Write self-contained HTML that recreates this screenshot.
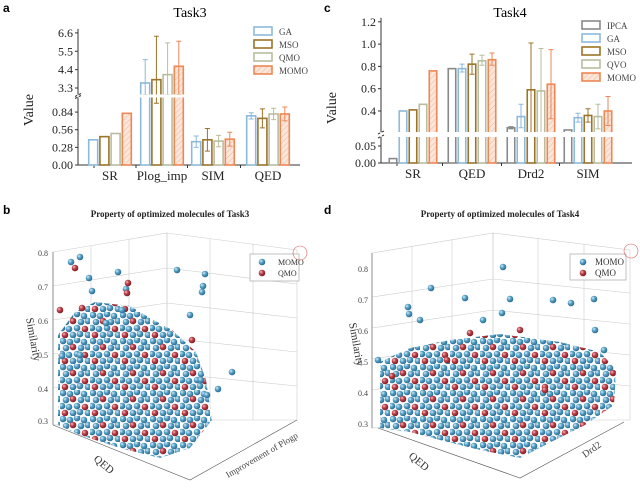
<!DOCTYPE html>
<html><head><meta charset="utf-8"><style>
body{margin:0;background:#fff;}
svg{display:block;font-family:"Liberation Serif",serif;}
.pl{font-family:"Liberation Sans",sans-serif;font-weight:bold;font-size:12px;}
</style></head><body>
<svg id="fig" width="640" height="488" viewBox="0 0 640 488">
<defs>
<pattern id="hatch" width="4" height="4" patternUnits="userSpaceOnUse" patternTransform="rotate(45)">
<rect width="4" height="4" fill="#fbe6da"/><line x1="0" y1="0" x2="0" y2="4" stroke="#efb69a" stroke-width="1"/></pattern>
<radialGradient id="gb" cx="35%" cy="35%" r="65%"><stop offset="0" stop-color="#d4ecf7"/><stop offset=".45" stop-color="#5aa3c8"/><stop offset="1" stop-color="#2b6c92"/></radialGradient>
<radialGradient id="gr" cx="35%" cy="35%" r="65%"><stop offset="0" stop-color="#f3c2c2"/><stop offset=".45" stop-color="#c0404a"/><stop offset="1" stop-color="#7d1f27"/></radialGradient>
<pattern id="cloud" width="30" height="26" patternUnits="userSpaceOnUse">
<rect width="30" height="26" fill="#fff"/>
<circle cx="3" cy="3" r="3.3" fill="url(#gb)"/><circle cx="10" cy="4" r="3.3" fill="url(#gb)"/><circle cx="17" cy="2" r="3.3" fill="url(#gb)"/><circle cx="24" cy="4" r="3.3" fill="url(#gb)"/>
<circle cx="6" cy="10" r="3.3" fill="url(#gb)"/><circle cx="13" cy="9" r="3.3" fill="url(#gr)"/><circle cx="21" cy="10" r="3.3" fill="url(#gb)"/><circle cx="28" cy="9" r="3.3" fill="url(#gb)"/>
<circle cx="2" cy="16" r="3.3" fill="url(#gb)"/><circle cx="9" cy="17" r="3.3" fill="url(#gb)"/><circle cx="17" cy="16" r="3.3" fill="url(#gb)"/><circle cx="25" cy="17" r="3.3" fill="url(#gr)"/>
<circle cx="5" cy="23" r="3.3" fill="url(#gr)"/><circle cx="13" cy="23" r="3.3" fill="url(#gb)"/><circle cx="20" cy="22" r="3.3" fill="url(#gb)"/><circle cx="28" cy="23" r="3.3" fill="url(#gb)"/>
</pattern>
</defs>
<text class="pl" x="3" y="12">a</text>
<text class="pl" x="324" y="12">c</text>
<text class="pl" x="3" y="214">b</text>
<text class="pl" x="324" y="214">d</text>
<text x="190" y="17" font-size="14" text-anchor="middle">Task3</text>
<text x="510" y="17" font-size="14" text-anchor="middle">Task4</text>
<g id="pa"></g><g id="pc"></g>

<!-- panel b -->
<g stroke="#ccc" stroke-width=".6" fill="none">
<text x="170" y="217" font-size="9" font-weight="bold" text-anchor="middle" fill="#222" stroke="none">Property of optimized molecules of Task3</text>
<polygon points="53,252 167,233 167,420 53,425"/>
<polygon points="167,233 297,250 297,420 167,420"/>
<path d="M53,286 167,268 297,284 M53,320 167,303 297,318 M53,354 167,338 297,352 M53,388 167,373 297,386 M91,246V423 M129,240V421 M210,239V420 M253,244V420"/>
<path d="M53,425 190,480 297,420" stroke="#555"/>
<line x1="53" y1="252" x2="53" y2="425" stroke="#555"/>
<path d="M58,335 75,312 95,302 130,306 150,318 172,330 196,352 206,380 212,420 190,448 160,458 120,448 80,435 58,425Z" fill="url(#cloud)" stroke="none"/>
<rect x="250" y="254" width="49" height="27" fill="#fff" stroke="#999"/>
<circle cx="262" cy="262" r="3.3" fill="url(#gb)" stroke="none"/><circle cx="262" cy="273" r="3.3" fill="url(#gr)" stroke="none"/>
<text x="278" y="265" font-size="8" fill="#333" stroke="none">MOMO</text><text x="278" y="276" font-size="8" fill="#333" stroke="none">QMO</text>
<circle cx="300" cy="253" r="7" stroke="#e06060"/>
<g font-size="8" fill="#444" stroke="none" text-anchor="end">
<text x="48" y="256">0.8</text><text x="48" y="290">0.7</text><text x="48" y="324">0.6</text><text x="48" y="358">0.5</text><text x="48" y="392">0.4</text><text x="48" y="424">0.3</text></g>
<text transform="translate(30,340) rotate(80)" font-size="11" fill="#333" stroke="none" text-anchor="middle">Similarity</text>
<text transform="translate(93,460) rotate(40)" font-size="11" fill="#333" stroke="none">QED</text>
<text transform="translate(228,478) rotate(-30)" font-size="9" fill="#444" stroke="none">Improvement of Plogp</text>
<g id="sb"></g>
</g>

<!-- panel d -->
<g stroke="#ccc" stroke-width=".6" fill="none">
<text x="500" y="217" font-size="9" font-weight="bold" text-anchor="middle" fill="#222" stroke="none">Property of optimized molecules of Task4</text>
<polygon points="372,253 493,233 493,420 372,428"/>
<polygon points="493,233 630,250 630,420 493,420"/>
<path d="M372,297 493,279 630,293 M372,328 493,310 630,324 M372,359 493,341 630,355 M372,390 493,372 630,386 M412,246V426 M452,240V423 M538,239V420 M584,244V420"/>
<path d="M378,428 520,478 624,422" stroke="#555"/>
<line x1="372" y1="253" x2="372" y2="428" stroke="#555"/>
<path d="M380,362 410,348 450,340 500,334 560,342 600,352 616,370 614,405 585,425 555,440 520,458 480,450 440,440 410,432 380,428Z" fill="url(#cloud)" stroke="none"/>
<rect x="570" y="254" width="56" height="26" fill="#fff" stroke="#999"/>
<circle cx="583" cy="262" r="3.3" fill="url(#gb)" stroke="none"/><circle cx="583" cy="273" r="3.3" fill="url(#gr)" stroke="none"/>
<text x="595" y="265" font-size="9" fill="#333" stroke="none">MOMO</text><text x="595" y="276" font-size="9" fill="#333" stroke="none">QMO</text>
<circle cx="631" cy="251" r="7" stroke="#e06060"/>
<g font-size="8" fill="#444" stroke="none" text-anchor="end">
<text x="368" y="272">0.8</text><text x="368" y="303">0.7</text><text x="368" y="334">0.6</text><text x="368" y="365">0.5</text><text x="368" y="396">0.4</text><text x="368" y="427">0.3</text></g>
<text transform="translate(353,345) rotate(80)" font-size="11" fill="#333" stroke="none" text-anchor="middle">Similarity</text>
<text transform="translate(408,457) rotate(40)" font-size="11" fill="#333" stroke="none">QED</text>
<text transform="translate(585,458) rotate(-35)" font-size="10" fill="#444" stroke="none">Drd2</text>
<g id="sd"></g>
</g>
</svg>
<script>
// Panel a data
const catsA=["SR","Plog_imp","SIM","QED"];
const seriesA=["GA","MSO","QMO","MOMO"];
const valsA=[[0.40,0.45,0.50,0.82],[3.6,3.8,4.1,4.6],[0.37,0.40,0.38,0.41],[0.78,0.74,0.81,0.81]];
const errHiA=[[0,0,0,0],[5.0,6.4,6.0,6.1],[0.46,0.58,0.47,0.52],[0.83,0.89,0.90,0.92]];
const errLoA=[[0,0,0,0],[2.9,0.98,2.9,2.9],[0.28,0.22,0.29,0.30],[0.73,0.59,0.72,0.70]];
const ticksA=[0,0.28,0.56,0.84,3.3,4.4,5.5,6.6];
// Panel c data
const catsC=["SR","QED","Drd2","SIM"];
const seriesC=["IPCA","GA","MSO","QVO","MOMO"];
const valsC=[[0.013,0.40,0.41,0.46,0.76],[0.78,0.78,0.82,0.85,0.86],[0.25,0.35,0.59,0.58,0.64],[0.23,0.34,0.36,0.35,0.40]];
const errHiC=[[0,0,0,0,0],[0,0.82,0.91,0.90,0.92],[0.26,0.46,1.01,0.96,0.95],[0,0.38,0.42,0.46,0.53]];
const errLoC=[[0,0,0,0,0],[0,0.75,0.73,0.81,0.81],[0.24,0.25,0.20,0.20,0.33],[0,0.30,0.30,0.24,0.27]];
const ticksC=[0,0.05,0.4,0.6,0.8,1.0,1.2];
// scatter outliers (projected coords)
const outB_x=[80,71,75,89,92,118,126,177,203,205,202,232,127,82,122,106,128,190,218,201,207,192,60,62,80];
const outB_y=[257,262,268,278,291,272,289,270,286,274,292,372,293,308,310,323,283,315,389,380,395,340,310,356,355];
const outB_c=["b","b","r","b","b","b","b","b","b","b","b","b","r","r","b","b","r","b","b","b","b","r","r","b","b"];
const outD_x=[503,431,465,408,409,420,510,553,502,571,594,447,470,378,392,483,595,604,545,520];
const outD_y=[267,288,298,307,314,320,299,300,313,303,299,360,333,360,376,320,330,350,390,330];
const outD_c=["b","b","b","b","b","b","b","b","b","b","b","r","r","b","r","b","b","b","r","r"];

const NS="http://www.w3.org/2000/svg";
function mk(tag,at,par){const e=document.createElementNS(NS,tag);for(const k in at)e.setAttribute(k,at[k]);par.appendChild(e);return e;}
const colA={GA:"#8db9da",MSO:"#9c7328",QMO:"#b9bd9f",QVO:"#b9bd9f",MOMO:"#ee8755",IPCA:"#8a8a8a"};

function yA(v){return v<=1.1? 165-v*63 : 88-(v-3.3)*16.7;}
function yC(v){return v<=0.1? 163-v*340 : 111-(v-0.4)*111.5;}

function drawBars(g,cats,series,vals,hi,lo,yf,x0,x1,xcs,bw,step,breakY,ticks,legY,legX,tickFmt){
  mk("line",{x1:x0,y1:yf(0),x2:x1,y2:yf(0),stroke:"#333"},g);
  mk("line",{x1:x0,y1:yf(0),x2:x0,y2:yf(ticks[ticks.length-1])-4,stroke:"#333"},g);
  ticks.forEach(t=>{const y=yf(t);mk("line",{x1:x0-3,y1:y,x2:x0,y2:y,stroke:"#333"},g);
    const tx=mk("text",{x:x0-5,y:y+4,"font-size":12,"text-anchor":"end",fill:"#222"},g);tx.textContent=tickFmt(t);
    
    });
  cats.forEach((c,i)=>{
    const tx=mk("text",{x:xcs[i],y:yf(0)+15,"font-size":13,"text-anchor":"middle",fill:"#222"},g);tx.textContent=c;
    
    
    const tk=i?(xcs[i]+xcs[i-1])/2:x0+(xcs[0]-x0)/2;
    mk("line",{x1:tk,y1:yf(0),x2:tk,y2:yf(0)+3,stroke:"#333"},g);
    series.forEach((s,j)=>{
      const v=vals[i][j];const x=xcs[i]+(j-(series.length-1)/2)*step-bw/2;const y=yf(v);
      const r=mk("rect",{x:x,y:y,width:bw,height:yf(0)-y,fill:s==="MOMO"?"url(#hatch)":"#fff",stroke:colA[s],"stroke-width":1.6},g);
      
      
      if(hi[i][j]){const xc=x+bw/2;const y1=yf(hi[i][j]);const y2=yf(lo[i][j]);
        const e=mk("path",{d:`M${xc},${y1}V${y2}M${xc-2.5},${y1}h5M${xc-2.5},${y2}h5`,stroke:colA[s],"stroke-width":1,fill:"none"},g);
        
        }
    });
  });
  mk("rect",{x:x0+1,y:breakY[0],width:x1-x0,height:breakY[1]-breakY[0],fill:"#fff"},g);
  mk("path",{d:`M${x0-3},${breakY[0]+2}l6,-3M${x0-3},${breakY[1]+1}l6,-3`,stroke:"#333",fill:"none"},g);
  mk("line",{x1:x0,y1:breakY[0],x2:x0,y2:breakY[1],stroke:"#fff","stroke-width":1.5},g);
  series.forEach((s,j)=>{const y=legY+j*13;
    const b=mk("rect",{x:legX,y:y,width:18,height:8,fill:s==="MOMO"?"url(#hatch)":"#fff",stroke:colA[s],"stroke-width":1.6},g);
    
    
    const t=mk("text",{x:legX+25,y:y+8,"font-size":9,fill:"#444"},g);t.textContent=s;
    
    });
  const yt=mk("text",{transform:`translate(${x0-45},${yf(0)-55}) rotate(-90)`,"font-size":14,"text-anchor":"middle",fill:"#222"},g);yt.textContent="Value";
  
  
}
drawBars(document.getElementById("pa"),catsA,seriesA,valsA,errHiA,errLoA,yA,78,300,[110,162,213,268],9,11.2,[94.5,97.5],ticksA,27,254,t=>t.toFixed(t>1?1:2));
drawBars(document.getElementById("pc"),catsC,seriesC,valsC,errHiC,errLoC,yC,381,632,[413,472,531,588],7.5,10,[132,137],ticksC,21,582,t=>t===0?"0.00":t===0.05?"0.05":t.toFixed(1));

function drawOut(id,xs,ys,cs){const g=document.getElementById(id);
  xs.forEach((x,i)=>{const c=mk("circle",{cx:x,cy:ys[i],r:3.3,fill:cs[i]==="r"?"url(#gr)":"url(#gb)",stroke:"none"},g);
    
    });}
drawOut("sb",outB_x,outB_y,outB_c);
drawOut("sd",outD_x,outD_y,outD_c);
</script>
</body></html>
